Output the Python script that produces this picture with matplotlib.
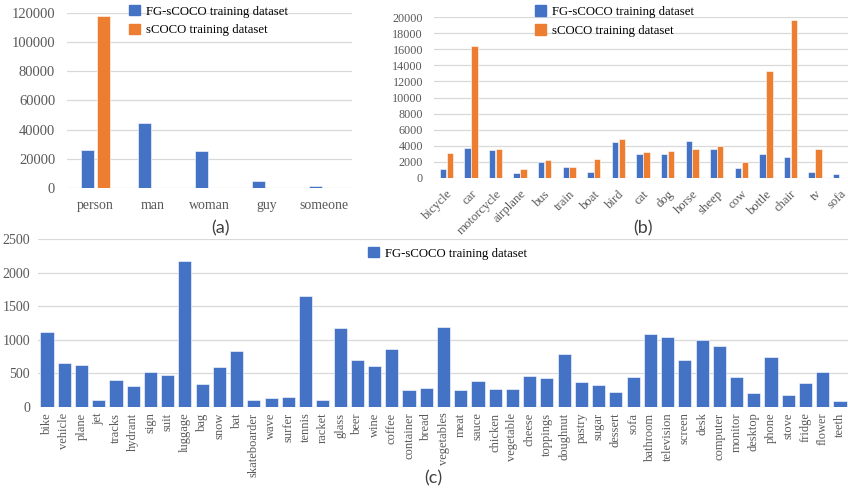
import matplotlib
matplotlib.use("Agg")
import matplotlib.pyplot as plt
import numpy as np

# ---------------- data ----------------
a_cats = ["person", "man", "woman", "guy", "someone"]
a_fg = [25800, 44200, 25500, 4800, 1700]
a_sc = [117500, 0, 0, 0, 0]

b_cats = ["bicycle", "car", "motorcycle", "airplane", "bus", "train", "boat",
          "bird", "cat", "dog", "horse", "sheep", "cow", "bottle", "chair",
          "tv", "sofa"]
b_fg = [1100, 3700, 3500, 600, 2000, 1400, 700, 4450, 3000, 3000, 4600,
        3650, 1200, 3000, 2550, 700, 450]
b_sc = [3100, 16400, 3650, 1150, 2200, 1400, 2350, 4900, 3200, 3400, 3600,
        4000, 2000, 13300, 19600, 3550, 0]

c_cats = ["bike", "vehicle", "plane", "jet", "tracks", "hydrant", "sign",
          "suit", "luggage", "bag", "snow", "bat", "skateboarder", "wave",
          "surfer", "tennis", "racket", "glass", "beer", "wine", "coffee",
          "container", "bread", "vegetables", "meat", "sauce", "chicken",
          "vegetable", "cheese", "toppings", "doughnut", "pastry", "sugar",
          "dessert", "sofa", "bathroom", "television", "screen", "desk",
          "computer", "monitor", "desktop", "phone", "stove", "fridge",
          "flower", "teeth"]
c_fg = [1120, 650, 625, 100, 400, 310, 520, 475, 2180, 340, 595, 840, 100,
        140, 150, 1650, 100, 1175, 700, 610, 865, 255, 290, 1190, 260, 385,
        270, 265, 465, 425, 785, 370, 320, 225, 450, 1090, 1045, 705, 1000,
        915, 445, 215, 740, 175, 350, 515, 90]

a_ticks = [0, 20000, 40000, 60000, 80000, 100000, 120000]
b_ticks = list(range(0, 20001, 2000))
c_ticks = [0, 500, 1000, 1500, 2000, 2500]

legend_fg = "FG-sCOCO training dataset"
legend_sc = "sCOCO training dataset"

# ---------------- style ----------------
BLUE = "#4472C4"
ORANGE = "#ED7D31"
GRID = "#D9D9D9"
TICK = "#595959"
SERIF = ["Liberation Serif", "DejaVu Serif"]

W, H = 848, 488
fig = plt.figure(figsize=(W / 100, H / 100), dpi=100)


def px_axes(left, top, right, bottom):
    return fig.add_axes([left / W, 1 - bottom / H, (right - left) / W, (bottom - top) / H])


def style(ax, ticks, fs_y):
    for s in ax.spines.values():
        s.set_visible(False)
    ax.set_yticks(ticks)
    ax.set_ylim(ticks[0], ticks[-1])
    ax.yaxis.grid(True, color=GRID, linewidth=0.9)
    ax.set_axisbelow(True)
    ax.tick_params(axis="both", length=0, colors=TICK)
    for lab in ax.get_yticklabels():
        lab.set_fontfamily(SERIF)
        lab.set_fontsize(fs_y)
        lab.set_color(TICK)


def add_legend(handles, labels, x, y, spacing=0.45):
    fig.legend(handles=handles, labels=labels, loc="upper left",
               bbox_to_anchor=(x / W, 1 - y / H), frameon=False,
               prop={"family": SERIF, "size": 9.2}, handlelength=0.85,
               handleheight=0.85, handletextpad=0.5, labelspacing=spacing,
               borderpad=0, borderaxespad=0)


patch_fg = plt.Rectangle((0, 0), 1, 1, color=BLUE)
patch_sc = plt.Rectangle((0, 0), 1, 1, color=ORANGE)

# ---------------- panel (a) ----------------
axa = px_axes(67, 12.7, 352, 188)
xa = np.arange(len(a_cats))
axa.bar(xa - 0.145, a_fg, width=0.23, color=BLUE, edgecolor="white", linewidth=0.4)
axa.bar(xa + 0.145, a_sc, width=0.23, color=ORANGE, edgecolor="white", linewidth=0.4)
axa.set_xlim(-0.5, len(a_cats) - 0.5)
style(axa, a_ticks, 10.5)
axa.set_xticks(xa)
axa.set_xticklabels(a_cats, fontfamily=SERIF, fontsize=10, color=TICK)
axa.tick_params(axis="x", pad=8)
axa.tick_params(axis="y", pad=8.5)
add_legend([patch_fg, patch_sc], [legend_fg, legend_sc], 129, 5, 0.5)
fig.text(221 / W, 1 - 228 / H, "(a)", ha="center", va="center",
         fontsize=13, color="#404040", family="Lato")

# ---------------- panel (b) ----------------
axb = px_axes(434, 17, 852, 178)
xb = np.arange(len(b_cats))
axb.bar(xb - 0.14, b_fg, width=0.26, color=BLUE, edgecolor="white", linewidth=0.4)
axb.bar(xb + 0.14, b_sc, width=0.26, color=ORANGE, edgecolor="white", linewidth=0.4)
axb.set_xlim(-0.5, len(b_cats) - 0.5)
style(axb, b_ticks, 8.7)
axb.set_xticks(xb)
axb.set_xticklabels(b_cats, fontfamily=SERIF, fontsize=9.2, color=TICK,
                    rotation=45, ha="right", rotation_mode="anchor")
axb.tick_params(axis="x", pad=7)
axb.tick_params(axis="y", pad=8)
add_legend([patch_fg, patch_sc], [legend_fg, legend_sc], 535, 5.5, 0.5)
fig.text(643 / W, 1 - 228 / H, "(b)", ha="center", va="center",
         fontsize=13, color="#404040", family="Lato")

# ---------------- panel (c) ----------------
axc = px_axes(38.4, 239, 848.6, 407)
xc = np.arange(len(c_cats))
axc.bar(xc, c_fg, width=0.76, color=BLUE, edgecolor="white", linewidth=0.4)
axc.set_xlim(-0.5, len(c_cats) - 0.5)
style(axc, c_ticks, 10)
axc.set_xticks(xc)
axc.set_xticklabels(c_cats, fontfamily=SERIF, fontsize=9, color=TICK, rotation=90)
axc.tick_params(axis="x", pad=4)
axc.tick_params(axis="y", pad=6)
add_legend([patch_fg], [legend_fg], 368, 247)
fig.text(433 / W, 1 - 478 / H, "(c)", ha="center", va="center",
         fontsize=13, color="#404040", family="Lato")

fig.savefig("out.png", dpi=100)
